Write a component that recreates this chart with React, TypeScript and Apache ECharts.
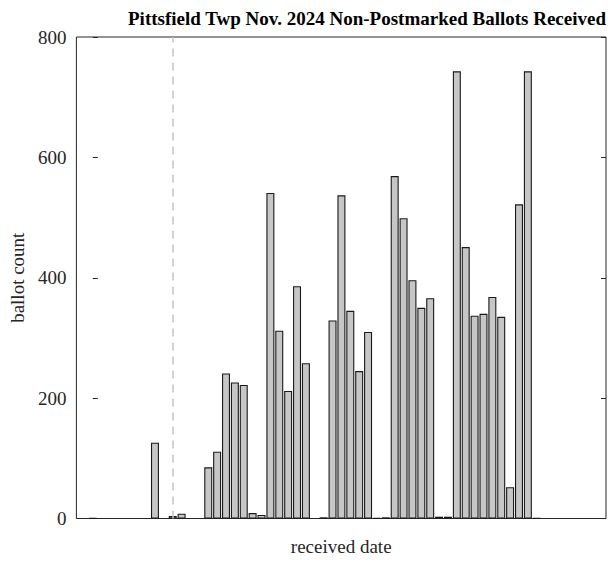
import React, { useEffect, useRef } from "react";
import * as echarts from "echarts";

const chartTitle = "Pittsfield Twp Nov. 2024 Non-Postmarked Ballots Received";
const xAxisName = "received date";
const yAxisName = "ballot count";

// day offset (slot) of each received batch, and the ballot count
const dayIndex = [
  0, 7, 9, 10, 13, 14, 15, 16, 17, 18, 19, 20, 21, 22, 23, 24, 26, 27, 28, 29,
  30, 31, 32, 33, 34, 35, 36, 37, 38, 39, 40, 41, 42, 43, 44, 45, 46, 47, 48,
  49, 50,
];
const counts = [
  1, 126, 4, 8, 85, 111, 241, 226, 222, 9, 6, 541, 312, 212, 386, 258, 2, 329,
  537, 345, 245, 310, 1, 2, 569, 499, 396, 350, 366, 3, 3, 743, 451, 337, 340,
  368, 335, 52, 522, 743, 1,
];
const markerDay = 9;
const xMin = -1.85;
const xMax = 57.8;
const yTicks = [0, 200, 400, 600, 800];

const FONT = '"Liberation Serif", "Times New Roman", serif';

export default function App() {
  const ref = useRef<HTMLDivElement>(null);
  useEffect(() => {
    if (!ref.current) return;
    const chart = echarts.init(ref.current, undefined, { renderer: "svg" });
    const data = dayIndex.map((d, i) => [d, counts[i]]);
    const yMax = yTicks[yTicks.length - 1];
    chart.setOption({
      animation: false,
      backgroundColor: "#ffffff",
      title: {
        text: chartTitle,
        left: 123,
        top: 4,
        textStyle: {
          fontFamily: FONT,
          fontWeight: "bold",
          fontSize: 19,
          color: "#000",
        },
      },
      grid: {
        left: 72,
        right: 2,
        top: 37,
        bottom: 44.5,
        show: true,
        borderColor: "#262626",
        borderWidth: 1,
        backgroundColor: "#fff",
      },
      xAxis: {
        type: "value",
        min: xMin,
        max: xMax,
        name: xAxisName,
        nameLocation: "middle",
        nameGap: 18,
        nameTextStyle: { fontFamily: FONT, fontSize: 19, color: "#262626" },
        axisLine: { show: false },
        axisTick: { show: false },
        axisLabel: { show: false },
        splitLine: { show: false },
      },
      yAxis: [
        {
          type: "value",
          min: 0,
          max: yMax,
          interval: 200,
          name: yAxisName,
          nameLocation: "middle",
          nameGap: 37,
          nameTextStyle: { fontFamily: FONT, fontSize: 19, color: "#262626" },
          axisLine: { show: false },
          axisTick: { show: true, inside: true, length: 5, lineStyle: { color: "#262626" } },
          axisLabel: { fontFamily: FONT, fontSize: 19, color: "#262626", margin: 10 },
          splitLine: { show: false },
        },
        {
          type: "value",
          position: "right",
          min: 0,
          max: yMax,
          interval: 200,
          axisLine: { show: false },
          axisTick: { show: true, inside: true, length: 5, lineStyle: { color: "#262626" } },
          axisLabel: { show: false },
          splitLine: { show: false },
        },
      ],
      series: [
        {
          type: "bar",
          data,
          barWidth: 8,
          itemStyle: {
            color: "#c6c6c6",
            borderColor: "#1a1a1a",
            borderWidth: 1.1,
          },
          markLine: {
            silent: true,
            symbol: "none",
            label: { show: false },
            lineStyle: { color: "#c4c4c4", type: [8, 6], width: 1.5 },
            data: [{ xAxis: markerDay }],
          },
        },
      ],
    });
    return () => chart.dispose();
  }, []);
  return <div ref={ref} style={{ width: 608, height: 563, position: "absolute", left: 0, top: 0 }} />;
}
